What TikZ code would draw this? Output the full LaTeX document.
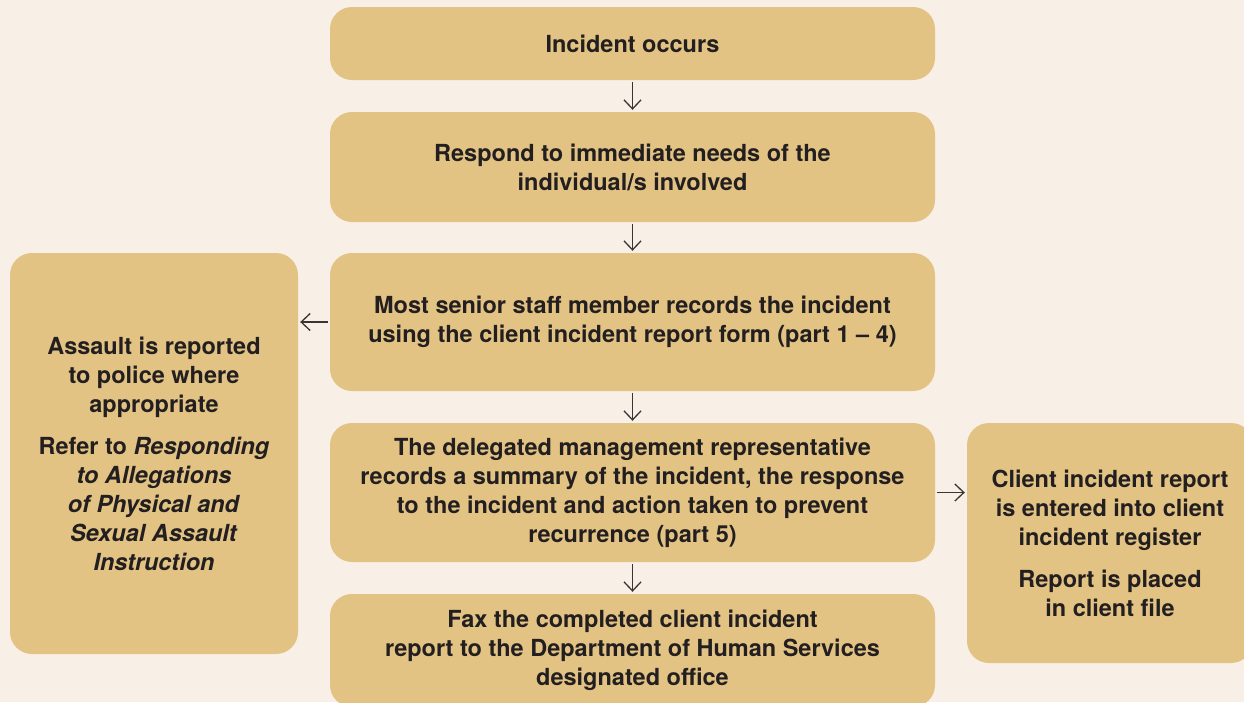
\documentclass[tikz,border=0pt]{standalone}
\usepackage{fontspec}
\setmainfont{TeX Gyre Heros}
\usepackage{xcolor}
\usetikzlibrary{arrows.meta}
\definecolor{pagebg}{HTML}{F8F0E6}
\definecolor{boxfill}{HTML}{E2C383}
\definecolor{inkdark}{HTML}{231F20}
\definecolor{arrowgray}{HTML}{3A3534}

\begin{document}
\begin{tikzpicture}[x=1pt,y=-1pt]
        \tikzstyle{every node}+=[inner sep=0pt, text=inkdark, font=\fontsize{23.5}{29}\selectfont\bfseries]
        \tikzstyle{stepbox}=[fill=boxfill, rounded corners=22pt, align=center]
        \tikzstyle{flow}=[arrowgray, line width=1.3pt, -{Straight Barb[length=9pt,width=17pt]}, shorten >=2pt, shorten <=2pt]
        \fill [pagebg] (0,0) rectangle (1244,702);
        \clip (0,0) rectangle (1244,702);
        \node [stepbox, minimum width=605pt, minimum height=73pt] (occurs) at (632.5,43.5) {Incident occurs};
        \node [stepbox, minimum width=605pt, minimum height=110pt] (respond) at (632.5,167) {Respond to immediate needs of the\\individual/s involved};
        \node [stepbox, minimum width=605pt, minimum height=138pt] (records) at (632.5,322) {Most senior staff member records the incident\\using the client incident report form (part 1 -- 4)};
        \node [stepbox, minimum width=605pt, minimum height=139pt] (summary) at (632.5,492.5) {The delegated management representative\\records a summary of the incident, the response\\to the incident and action taken to prevent\\recurrence (part 5)};
        \node [stepbox, minimum width=605pt, minimum height=113pt] (fax) at (632.5,650.5) {Fax the completed client incident\\report to the Department of Human Services\\designated office};
        \node [stepbox, minimum width=288pt, minimum height=401pt] (assault) at (154,453.5) {Assault is reported\\to police where\\appropriate\\[13pt]Refer to \textit{Responding}\\\textit{to Allegations}\\\textit{of Physical and}\\\textit{Sexual Assault}\\\textit{Instruction}};
        \node [stepbox, minimum width=286pt, minimum height=240pt] (register) at (1110,543) {Client incident report\\is entered into client\\incident register\\[13pt]Report is placed\\in client file};
        \draw [flow] (occurs) -- (respond);
        \draw [flow] (respond) -- (records);
        \draw [flow] (records) -- (summary);
        \draw [flow] (summary) -- (fax);
        \draw [flow] (records.west) -- (records.west -| assault.east);
        \draw [flow] (summary.east) -- (summary.east -| register.west);
\end{tikzpicture}
\end{document}
